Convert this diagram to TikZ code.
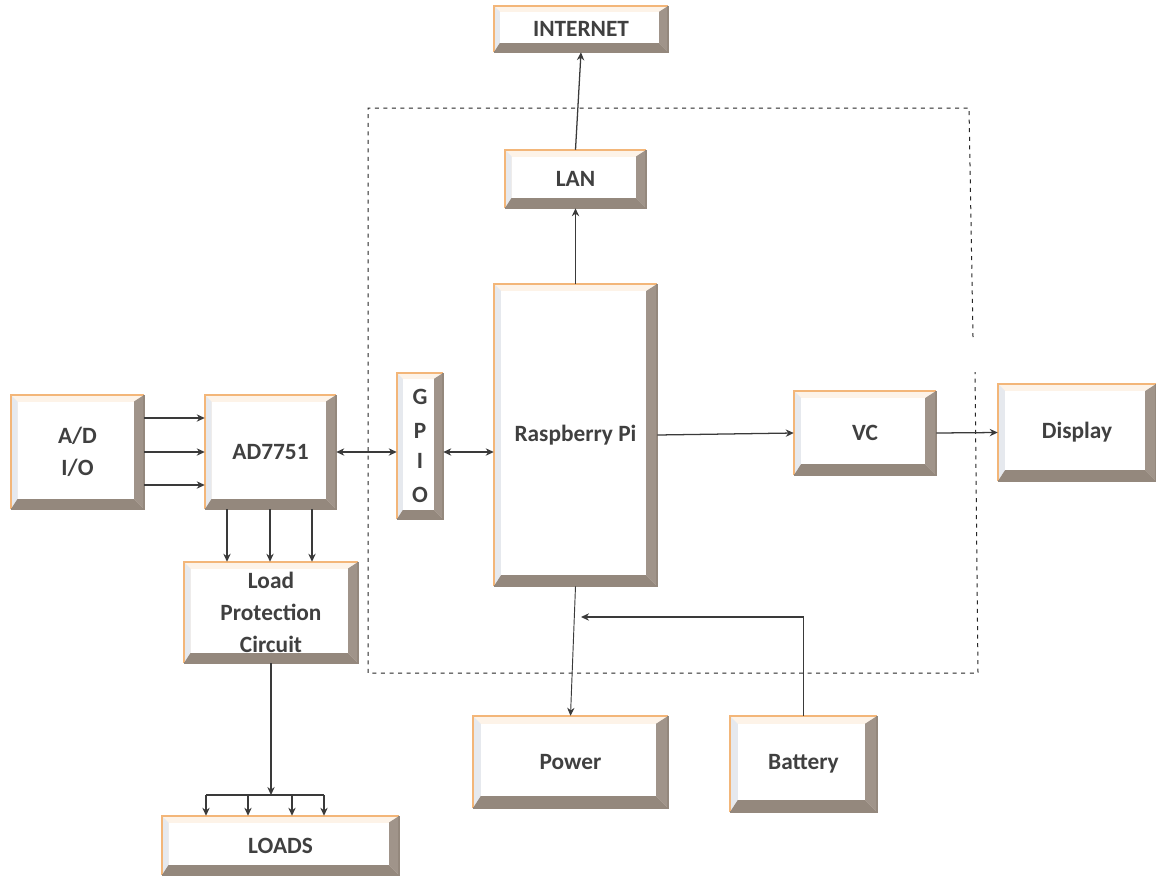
\documentclass[tikz,border=0pt]{standalone}
\usepackage{fontspec}
\setmainfont{Carlito}
\usetikzlibrary{arrows.meta,calc}
\definecolor{warm}{HTML}{F3B679}
\definecolor{warmface}{HTML}{FDF3E8}
\definecolor{coolface}{HTML}{E6E9EE}
\definecolor{rface}{HTML}{A0948A}
\definecolor{bface}{HTML}{94887D}
\definecolor{inkdark}{HTML}{3A3A3A}
\definecolor{textink}{HTML}{404040}
\tikzset{
  bevelnode/.style={inner sep=0pt,align=center,text=textink,font=\fontsize{17.5}{24}\selectfont\bfseries},
  wire/.style={draw=inkdark,line width=.95pt,-{Stealth[length=6pt,width=5.5pt]}},
  wirebi/.style={draw=inkdark,line width=.95pt,{Stealth[length=6pt,width=5.5pt]}-{Stealth[length=6pt,width=5.5pt]}},
  busline/.style={draw=inkdark,line width=.95pt},
  dashbox/.style={draw=black!85,line width=.75pt,dash pattern=on 3pt off 3.4pt}
}
% name, x1, y1, x2, y2, text, bevel
\newcommand{\bevbox}[7]{%
  \pgfmathsetmacro{\tl}{0.65*#7}%
  \fill[warmface] (#2,#3) rectangle (#4,#5);
  \fill[coolface] (#2,#3) -- ({#2+\tl},{#3+\tl}) -- ({#2+\tl},{#5-#7}) -- (#2,#5) -- cycle;
  \fill[rface] (#4,#3) -- ({#4-#7},{#3+\tl}) -- ({#4-#7},{#5-#7}) -- (#4,#5) -- cycle;
  \fill[bface] (#2,#5) -- ({#2+\tl},{#5-#7}) -- ({#4-#7},{#5-#7}) -- (#4,#5) -- cycle;
  \fill[white] ({#2+\tl},{#3+\tl}) rectangle ({#4-#7},{#5-#7});
  \draw[warm,line width=2pt] (#2,#5) -- (#2,#3) -- (#4,#3);
  \draw[bface,line width=1.2pt] (#2,#5) -- (#4,#5) -- (#4,#3);
  \node[bevelnode,minimum width={(#4-#2)*0.75pt},minimum height={(#5-#3)*0.75pt}] (#1) at ({(#2+#4)/2},{(#3+#5)/2}) {#6};
}
\begin{document}
\begin{tikzpicture}[x=0.75pt,y=-0.75pt]
\useasboundingbox (0,0) rectangle (1156,875);
\fill[white] (0,0) rectangle (1156,875);
% dashed enclosure
\draw[dashbox] (973,337) -- (969,108) -- (368,108) -- (368,673) -- (978,673) -- (975,372);
% blocks
\bevbox{internet}{494}{6}{668}{52}{INTERNET}{9}
\bevbox{lan}{505}{150}{646}{208}{LAN}{10}
\bevbox{rpi}{494}{284}{657}{586}{Raspberry Pi}{11}
\bevbox{gpio}{397}{373}{443}{519}{G\\[1pt]P\\[-1pt]I\\[1pt]O}{9}
\bevbox{adc}{205}{395}{336}{509}{AD7751}{10}
\bevbox{adio}{11}{395}{144}{509}{A/D\\I/O}{10}
\bevbox{prot}{184}{562}{358}{663}{Load\\Protection\\Circuit}{10}
\bevbox{loads}{162}{816}{399}{875}{LOADS}{10}
\bevbox{power}{473}{716}{668}{808}{Power}{12}
\bevbox{batt}{730}{716}{877}{812}{Battery}{12}
\bevbox{vc}{794}{391}{936}{475}{VC}{11}
\bevbox{disp}{998}{384}{1156}{481}{Display}{11}
% free ends
\coordinate (busin) at (271,795);
\coordinate (busl) at (206,795);
\coordinate (busr) at (324,795);
\coordinate (battbend) at (batt.north |- 0,617);
\coordinate (battend) at (581,617);
% connectors
\draw[wire] (lan.north) -- (internet.south);
\draw[wire] (rpi.north) -- (lan.south);
\draw[wire] (rpi.east) -- (vc.west);
\draw[wire] (vc.east) -- (disp.west);
\draw[wire,line width=.7pt] (rpi.south) -- (power.north);
\draw[wire] (batt.north) -- (battbend) -- (battend);
\draw[wirebi] (adc.east |- 0,452) -- (gpio.west |- 0,452);
\draw[wirebi] (gpio.east |- 0,452) -- (rpi.west |- 0,452);
\draw[wire] (adio.east |- 0,418) -- (adc.west |- 0,418);
\draw[wire] (adio.east |- 0,452) -- (adc.west |- 0,452);
\draw[wire] (adio.east |- 0,485) -- (adc.west |- 0,485);
\draw[wire] (adc.south -| 227,0) -- (prot.north -| 227,0);
\draw[wire] (adc.south -| 270,0) -- (prot.north -| 270,0);
\draw[wire] (adc.south -| 312,0) -- (prot.north -| 312,0);
\draw[wire] (prot.south -| busin) -- (busin);
\draw[busline] (busl) -- (busr);
\draw[wire] (busl) -- (loads.north -| busl);
\draw[wire] (busin -| 248,0) -- (loads.north -| 248,0);
\draw[wire] (busin -| 292,0) -- (loads.north -| 292,0);
\draw[wire] (busr) -- (loads.north -| busr);
\end{tikzpicture}
\end{document}
